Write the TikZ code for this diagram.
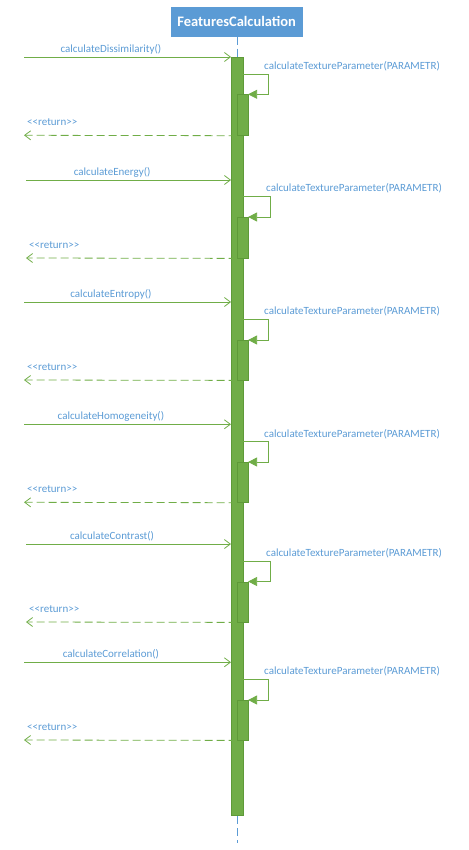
\documentclass[tikz,border=0pt]{standalone}
\usepackage{fontspec}
\setmainfont{Carlito}
\usetikzlibrary{arrows.meta}
\definecolor{umlgreen}{HTML}{70AD47}
\definecolor{umlgreendark}{HTML}{5E9A38}
\definecolor{umlblue}{HTML}{5B9BD5}
\tikzset{
  msgcall/.style={draw=umlgreen, line width=0.8pt, -{Straight Barb[length=6pt,width=9pt]}},
  msgret/.style={draw=umlgreen, line width=0.8pt, dash pattern=on 8pt off 4pt, -{Straight Barb[length=6pt,width=9pt]}},
  selfcall/.style={draw=umlgreen, line width=0.8pt, -{Triangle[length=9pt,width=9pt]}},
  msglabel/.style={text=umlblue, font=\fontsize{11}{12}\selectfont, inner sep=0pt},
  activation/.style={fill=umlgreen, draw=umlgreendark, line width=0.4pt},
  lifeline/.style={draw=umlblue, line width=0.8pt, dash pattern=on 8pt off 4pt}
}
\begin{document}
\begin{tikzpicture}[x=1pt,y=-1pt]
\useasboundingbox (0,0) rectangle (468,850);
% header
\node[fill=umlblue, minimum width=132pt, minimum height=30pt, inner sep=0pt,
      text=white, font=\fontsize{14.5}{16}\selectfont\bfseries] (hdr) at (236.7,21.7) {FeaturesCalculation};
\coordinate (ll1) at (237,36.7);
\coordinate (ll2) at (237,57);
\draw[lifeline] (ll1) -- (ll2);
\coordinate (ll3) at (237,816);
\coordinate (ll4) at (237,843);
\draw[lifeline] (ll3) -- (ll4);
% main activation
\node[activation, minimum width=11.7pt, minimum height=758pt, inner sep=0pt, anchor=north west] (act) at (231,57) {};
% rows: call y, self top, self bottom, return y, loop x, label text, left x
\foreach \cy/\st/\sb/\ry/\lx/\txt/\lft/\i in {
  57/74/94.3/135.3/268/calculateDissimilarity()/24/1,
  180/196.5/217/258/270/calculateEnergy()/26/2,
  302/319/340/380/268/calculateEntropy()/24/3,
  424.3/441.7/462/502.3/268/calculateHomogeneity()/24/4,
  544/561/581.5/622/270/calculateContrast()/26/5,
  662.3/679/700/740/268/calculateCorrelation()/24/6}{
  \coordinate (s\i) at (\lft,\cy);
  \coordinate (e\i) at (231,\cy);
  \draw[msgcall] (s\i) -- node[msglabel, above=2.5pt, pos=0.42] (lbl\i) {\txt} (e\i);
  \node[activation, minimum width=11pt, minimum height=\ry-\sb, inner sep=0pt, anchor=north west] (nact\i) at (236.7,\sb) {};
  \coordinate (a\i) at (242.7,\st);
  \coordinate (b\i) at (\lx,\st);
  \coordinate (c\i) at (\lx,\sb);
  \draw[selfcall] (a\i) -- (b\i) -- (c\i) -- (nact\i.north east);
  \node[msglabel, anchor=base west] (sl\i) at (\lx-4,\st-4.5) {calculateTextureParameter(PARAMETR)};
  \coordinate (r\i) at (\lft,\ry);
  \draw[msgret] (nact\i.south west) -- (r\i);
  \node[msglabel, anchor=base west] (rl\i) at (\lft+3,\ry-10) {<{}<return>{}>};
}
\end{tikzpicture}
\end{document}
